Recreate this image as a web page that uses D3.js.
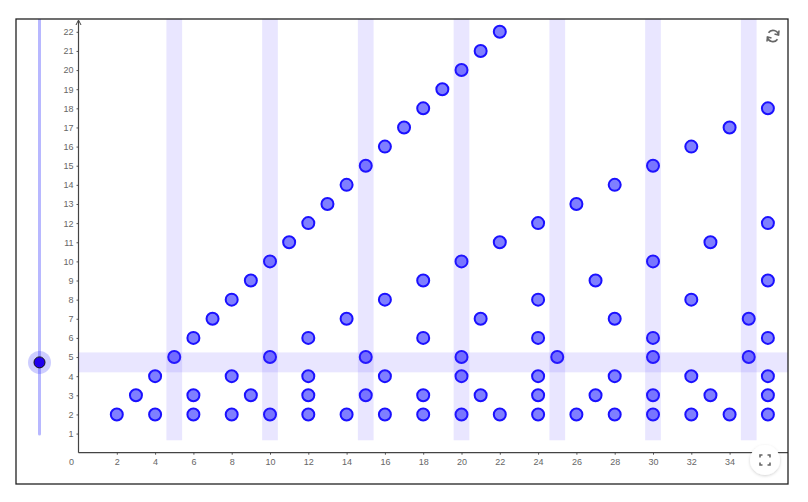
<!DOCTYPE html>
<html>
<head>
<meta charset="utf-8">
<script src="https://cdn.jsdelivr.net/npm/d3@7"></script>
<style>
  html, body { margin: 0; padding: 0; background: #fff; }
  svg { display: block; }
  .tick text { font-family: "Liberation Sans", Arial, sans-serif; font-size: 9px; fill: #666; }
</style>
</head>
<body>
<svg id="chart" width="808" height="502"></svg>
<script>
// ---- data: n on x, its divisors (>= 2) on y ----
const pointX = [2,3,4,4,5,6,6,6,7,8,8,8,9,9,10,10,10,11,12,12,12,12,12,13,14,14,14,15,15,15,16,16,16,16,17,18,18,18,18,18,19,20,20,20,20,20,21,21,21,22,22,22,24,24,24,24,24,24,25,26,26,27,27,28,28,28,28,30,30,30,30,30,30,32,32,32,32,33,33,34,34,35,35,36,36,36,36,36,36,36];
const pointY = [2,3,2,4,5,2,3,6,7,2,4,8,3,9,2,5,10,11,2,3,4,6,12,13,2,7,14,3,5,15,2,4,8,16,17,2,3,6,9,18,19,2,4,5,10,20,3,7,21,2,11,22,2,3,4,6,8,12,5,2,13,3,9,2,4,7,14,2,3,5,6,10,15,2,4,8,16,3,11,2,17,5,7,2,3,4,6,9,12,18];
const bandX = [5,10,15,20,25,30,35];
const sliderValue = 4.72;
const xTicks = [2,4,6,8,10,12,14,16,18,20,22,24,26,28,30,32,34];
const yTicks = [1,2,3,4,5,6,7,8,9,10,11,12,13,14,15,16,17,18,19,20,21,22];

const svg = d3.select("#chart");
const frame = {l: 16, t: 19, r: 788, b: 484};
const x = d3.scaleLinear().domain([0, 37]).range([78.5, 787.05]);
const y = d3.scaleLinear().domain([0, 22]).range([452.7, 31.8]);

svg.append("defs").append("clipPath").attr("id", "clip")
  .append("rect").attr("x", frame.l).attr("y", frame.t)
  .attr("width", frame.r - frame.l).attr("height", frame.b - frame.t);
const defs = svg.select("defs");
defs.append("filter").attr("id", "shadow").attr("x", "-50%").attr("y", "-50%").attr("width", "200%").attr("height", "200%")
  .append("feDropShadow").attr("dx", 0).attr("dy", 1).attr("stdDeviation", 1.5).attr("flood-color", "#000").attr("flood-opacity", 0.18);

const g = svg.append("g").attr("clip-path", "url(#clip)");

// axes
const yAxis = d3.axisLeft(y).tickValues(yTicks).tickSize(2).tickPadding(3).tickFormat(d3.format("d"));
const yg = g.append("g").attr("transform", `translate(${x(0)},0)`).call(yAxis);
yg.select(".domain").remove();
yg.selectAll(".tick line").attr("stroke", "#555");

const xAxis = d3.axisBottom(x).tickValues(xTicks).tickSize(2).tickPadding(4).tickFormat(d3.format("d"));
const xg = g.append("g").attr("transform", `translate(0,${y(0)})`).call(xAxis);
xg.select(".domain").remove();
xg.selectAll(".tick line").attr("stroke", "#555");

g.append("text").attr("x", x(0) - 7).attr("y", y(0) + 12)
  .attr("text-anchor", "middle")
  .style("font-family", "Liberation Sans, Arial, sans-serif").style("font-size", "9px").style("fill", "#666")
  .text("0");

// axis lines with arrows
g.append("line").attr("x1", x(0)).attr("x2", x(0)).attr("y1", y(0)).attr("y2", 21)
  .attr("stroke", "#444").attr("stroke-width", 1.2);
g.append("path").attr("d", `M${x(0)-2.5},${25} L${x(0)},${20} L${x(0)+2.5},${25}`)
  .attr("fill", "none").attr("stroke", "#444").attr("stroke-width", 1);
g.append("line").attr("x1", x(0)).attr("x2", 788).attr("y1", y(0)).attr("y2", y(0))
  .attr("stroke", "#444").attr("stroke-width", 1.2);

// points
g.append("g").selectAll("circle").data(pointX.map((v, i) => [v, pointY[i]])).join("circle")
  .attr("cx", d => x(d[0])).attr("cy", d => y(d[1])).attr("r", 6)
  .attr("fill", "#7f7fff").attr("stroke", "#1a10ff").attr("stroke-width", 2);

// bands (drawn over points, translucent)
g.append("g").selectAll("rect").data(bandX).join("rect")
  .attr("x", d => x(d - 0.41)).attr("width", d => x(d + 0.41) - x(d - 0.41))
  .attr("y", y(24)).attr("height", y(0.65) - y(24))
  .attr("fill", "rgb(70,50,255)").attr("fill-opacity", 0.12);
g.append("rect").attr("x", x(0)).attr("width", 788 - x(0))
  .attr("y", y(sliderValue + 0.52)).attr("height", y(sliderValue - 0.52) - y(sliderValue + 0.52))
  .attr("fill", "rgb(70,50,255)").attr("fill-opacity", 0.12);

// slider
const sx = 39.5;
g.append("line").attr("x1", sx).attr("x2", sx).attr("y1", 19).attr("y2", y(0.98))
  .attr("stroke", "#b8b8ff").attr("stroke-width", 3).attr("stroke-linecap", "round");
g.append("circle").attr("cx", sx).attr("cy", y(sliderValue)).attr("r", 11.5)
  .attr("fill", "rgb(60,60,255)").attr("fill-opacity", 0.25);
g.append("circle").attr("cx", sx).attr("cy", y(sliderValue)).attr("r", 5.5)
  .attr("fill", "#2000ee").attr("stroke", "#111").attr("stroke-width", 1);

// refresh icon (two circular arrows)
const ri = svg.append("g").attr("transform", "translate(773,36)")
  .attr("fill", "none").attr("stroke", "#666").attr("stroke-width", 1.6);
ri.append("path").attr("d", "M5.5,-1 A5.5,5.5 0 0 0 -4.5,-3.2");
ri.append("path").attr("d", "M-5.5,1 A5.5,5.5 0 0 0 4.5,3.2");
ri.append("path").attr("d", "M6,-5.5 L5.5,-1 L1.5,-2").attr("stroke-linejoin", "miter");
ri.append("path").attr("d", "M-6,5.5 L-5.5,1 L-1.5,2").attr("stroke-linejoin", "miter");

// fullscreen button
const fb = svg.append("g").attr("transform", "translate(765,460)");
fb.append("circle").attr("r", 15).attr("fill", "#fff").attr("filter", "url(#shadow)");
const fsz = 5, gap = 2.5;
const fp = fb.append("g").attr("fill", "none").attr("stroke", "#666").attr("stroke-width", 1.6);
fp.append("path").attr("d", `M${-fsz},${-gap} V${-fsz} H${-gap} M${gap},${-fsz} H${fsz} V${-gap} M${fsz},${gap} V${fsz} H${gap} M${-gap},${fsz} H${-fsz} V${gap}`);

// frame
svg.append("rect").attr("x", frame.l).attr("y", frame.t)
  .attr("width", frame.r - frame.l).attr("height", frame.b - frame.t)
  .attr("fill", "none").attr("stroke", "#222").attr("stroke-width", 1.3);
</script>
</body>
</html>
